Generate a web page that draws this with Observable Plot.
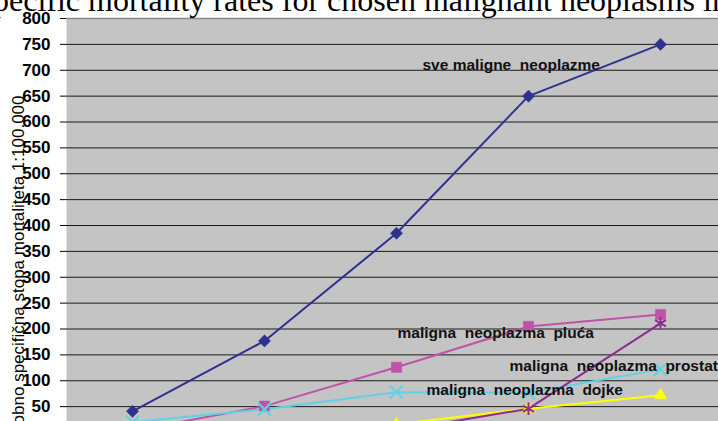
<!DOCTYPE html>
<html>
<head>
<meta charset="utf-8">
<script src="https://cdn.jsdelivr.net/npm/d3@7"></script>
<script src="https://cdn.jsdelivr.net/npm/@observablehq/plot@0.6"></script>
<style>
  html, body { margin: 0; padding: 0; background: #fff; }
  #wrap { position: relative; width: 718px; height: 421px; overflow: hidden; background: #fff; }
  #title { position: absolute; top: -16px; white-space: nowrap; font-family: "Liberation Serif", "DejaVu Serif", serif; font-size: 32px; line-height: 1; color: #000; }
  #chart { position: absolute; left: 0; top: 0; width: 760px; }
  #chart svg { max-width: none !important; }
</style>
</head>
<body>
<div id="wrap">
  <div id="chart"></div>
  <div id="title">Age-specific mortality rates for chosen malignant neoplasms in Croatia</div>
</div>
<script>
// Age groups (x categories)
const ageGroups = ["35-44", "45-54", "55-64", "65-74", "75+"];

// Series values (rate per 100,000)
const sveMaligne = [41, 177, 385, 650, 750];
const pluca      = [3, 51, 126, 205, 228];
const cyanSeries = [20, 45, 78, 77, 122];
const yellowSeries = [4, 9, 16, 46, 72];
const purpleSeries = [0, 1, 3, 46, 211];

const seriesNames = ["sve", "pluca", "cyan", "yellow", "purple"];
const seriesValues = [sveMaligne, pluca, cyanSeries, yellowSeries, purpleSeries];
const seriesColors = ["#2E318F", "#C052A8", "#5FD2E8", "#FFFF00", "#8E2C90"];
const seriesSymbols = ["diamond2", "square2", "times", "triangle2", "asterisk"];

const yTicks = [50, 100, 150, 200, 250, 300, 350, 400, 450, 500, 550, 600, 650, 700, 750, 800];
const yTitle = "Dobno specifična stopa mortaliteta 1:100.000";

// In-plot series labels
const labelTexts = ["sve maligne\u00a0 neoplazme", "maligna\u00a0 neoplazma\u00a0 pluća", "maligna\u00a0 neoplazma\u00a0 prostate", "maligna\u00a0 neoplazma\u00a0 dojke"];
const labelAge = ["55-64", "55-64", "65-74", "55-64"];
const labelValue = [711, 193, 129, 83];
const labelDx = [26, 1, -19, 30];

const rows = [];
seriesNames.forEach((s, i) => {
  seriesValues[i].forEach((v, j) => rows.push({series: s, age: ageGroups[j], value: v, si: i}));
});
const labels = labelTexts.map((t, i) => ({text: t, age: labelAge[i], value: labelValue[i], dx: labelDx[i]}));

const marks = [
  Plot.frame({fill: "#C4C4C4", stroke: null}),
  Plot.gridY(yTicks, {stroke: "#1a1a1a", strokeOpacity: 1, strokeWidth: 1}),
  Plot.ruleY([800], {stroke: "#8a8a8a", strokeWidth: 1.5}),
  Plot.ruleX([0], {frameAnchor: "left", stroke: "#000"}),
];
seriesNames.forEach((s, i) => {
  const d = rows.filter(r => r.series === s);
  marks.push(Plot.line(d, {x: "age", y: "value", stroke: seriesColors[i], strokeWidth: 2, clip: true}));
});
seriesNames.forEach((s, i) => {
  const d = rows.filter(r => r.series === s);
  const filled = ["diamond2", "square2", "triangle2"].includes(seriesSymbols[i]);
  marks.push(Plot.dot(d, {
    x: "age", y: "value", symbol: () => seriesSymbols[i],
    r: i === 1 ? 6.5 : (i === 0 ? 5.5 : 6),
    fill: filled ? seriesColors[i] : "none",
    stroke: seriesColors[i], strokeWidth: filled ? 0.5 : 2
  }));
});
labels.forEach(l => {
  marks.push(Plot.text([l], {x: "age", y: "value", text: "text", dx: l.dx, textAnchor: "start",
    fontSize: 15.5, fontWeight: "bold", fontFamily: "Arial, 'Liberation Sans', sans-serif", fill: "#111"}));
});
marks.push(Plot.axisY({ticks: yTicks, tickSize: 6, tickPadding: 10, label: null,
  fontSize: 17, fontWeight: "bold", fontFamily: "Arial, 'Liberation Sans', sans-serif", stroke: "#000"}));
marks.push(Plot.text([yTitle], {frameAnchor: "top-left", rotate: -90, textAnchor: "end", lineAnchor: "middle",
  dx: -48, dy: 77, fontSize: 17, fontFamily: "Arial, 'Liberation Sans', sans-serif", fill: "#000"}));

const plot = Plot.plot({
  width: 760,
  height: 462,
  marginLeft: 66,
  marginRight: 34,
  marginTop: 18,
  marginBottom: 30,
  style: {background: "transparent", fontFamily: "Arial, 'Liberation Sans', sans-serif", overflow: "visible", maxWidth: "none"},
  x: {type: "point", domain: ageGroups, padding: 0.5, axis: "bottom", label: null, tickSize: 0},
  y: {domain: [0, 800], axis: null},
  marks
});
plot.style.maxWidth = "none";
document.getElementById("chart").appendChild(plot);

// position title so that the visible part starts like the reference
const c = document.createElement("canvas").getContext("2d");
c.font = "32px 'Liberation Serif'";
const off = c.measureText("Age-sp").width;
document.getElementById("title").style.left = (9 - off) + "px";
</script>
</body>
</html>
